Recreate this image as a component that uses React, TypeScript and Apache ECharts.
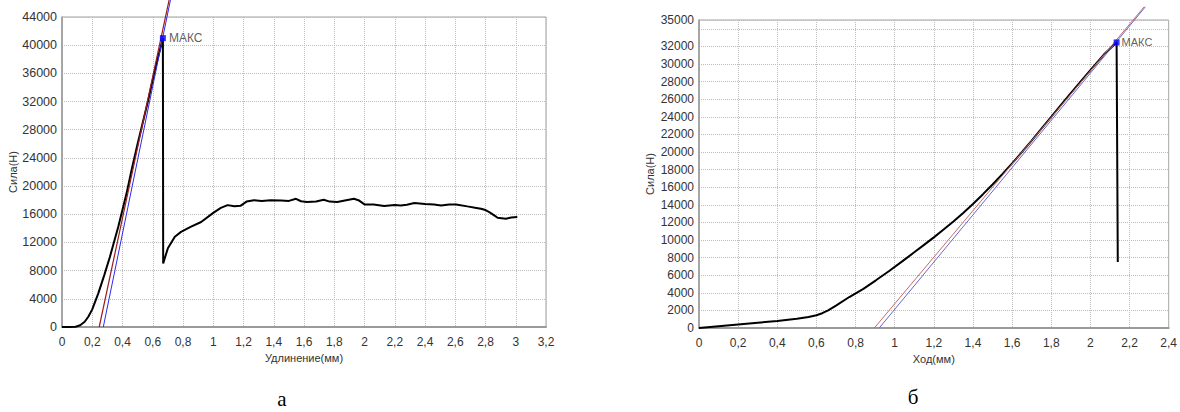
import React, { useEffect, useRef } from "react";
import * as echarts from "echarts";

// ---------- Data (left chart "а") ----------
const leftCurve: number[][] = [
  [0, 0], [0.05, 0], [0.09, 30], [0.12, 250], [0.15, 750], [0.174, 1460], [0.2, 2500],
  [0.24, 4780], [0.28, 7400], [0.317, 9980], [0.372, 14230], [0.427, 18970], [0.46, 22280],
  [0.5, 26000], [0.57, 32200], [0.62, 37000], [0.667, 41000], [0.669, 9000], [0.68, 9800],
  [0.7, 11170], [0.746, 12810], [0.787, 13500], [0.85, 14200], [0.92, 14900], [1.0, 16200],
  [1.05, 16900], [1.095, 17300], [1.14, 17150], [1.18, 17200], [1.22, 17800], [1.27, 18000],
  [1.32, 17900], [1.38, 18000], [1.448, 17970], [1.5, 17900], [1.547, 18200], [1.58, 17850],
  [1.62, 17750], [1.68, 17800], [1.73, 18060], [1.77, 17800], [1.82, 17730], [1.87, 17950],
  [1.93, 18200], [1.96, 18000], [2.0, 17400], [2.06, 17400], [2.13, 17160], [2.2, 17300],
  [2.24, 17250], [2.28, 17350], [2.33, 17590], [2.4, 17450], [2.46, 17400], [2.506, 17260],
  [2.56, 17400], [2.605, 17400], [2.68, 17120], [2.74, 16900], [2.77, 16790], [2.8, 16600],
  [2.825, 16310], [2.86, 15800], [2.88, 15500], [2.935, 15370], [2.97, 15550], [3.01, 15600],
];
const leftRedLine: number[][] = [[0.246, 0], [0.708, 46400]];
const leftBlueLine: number[][] = [[0.273, 0], [0.717, 46400]];
const leftMax: number[][] = [[0.667, 41000]];

// ---------- Data (right chart "б") ----------
const rightCurve: number[][] = [
  [0, 0], [0.1, 200], [0.2, 400], [0.3, 600], [0.4, 800], [0.5, 1050], [0.56, 1250],
  [0.6, 1450], [0.63, 1680], [0.66, 2000], [0.7, 2550], [0.768, 3520], [0.84, 4450],
  [0.904, 5420], [0.97, 6450], [1.04, 7600], [1.1, 8600], [1.15, 9450], [1.2, 10300],
  [1.25, 11200], [1.3, 12100], [1.35, 13080], [1.4, 14100], [1.45, 15180], [1.5, 16300],
  [1.55, 17480], [1.6, 18700], [1.65, 19980], [1.7, 21300], [1.75, 22650], [1.8, 24000],
  [1.85, 25350], [1.9, 26700], [1.95, 28000], [2.0, 29300], [2.07, 31100], [2.134, 32450],
  [2.14, 7500],
];
const rightRedLine: number[][] = [[0.896, 0], [2.275, 36500]];
const rightBlueLine: number[][] = [[0.921, 0], [2.281, 36500]];
const rightMax: number[][] = [[2.134, 32450]];

// ---------- Axis texts ----------
const yTitle = "Сила(Н)";
const leftXTitle = "Удлинение(мм)";
const rightXTitle = "Ход(мм)";
const maxLabel = "МАКС";
const captionLeft = "а";
const captionRight = "б";

const FONT = "Liberation Sans, Arial, sans-serif";

const fmtX = (v: number) => {
  const s = String(Number(v.toFixed(1)));
  return s.replace(".", ",");
};

export default function App() {
  const ref = useRef<HTMLDivElement>(null);
  useEffect(() => {
    if (!ref.current) return;
    const chart = echarts.init(ref.current, undefined, { renderer: "svg" });
    const splitLine = { show: true, lineStyle: { color: "#bdbdbd", type: "dotted" as const, width: 1 } };
    const xAxisCommon = {
      type: "value" as const,
      min: 0,
      interval: 0.2,
      axisTick: { show: false },
      axisLine: { show: true, lineStyle: { color: "#9a9a9a", width: 2 } },
      splitLine,
      nameLocation: "middle" as const,
      nameTextStyle: { color: "#333", fontFamily: FONT, fontSize: 11 },
    };
    const yAxisCommon = {
      type: "value" as const,
      min: 0,
      axisTick: { show: false },
      axisLine: { show: true, lineStyle: { color: "#9a9a9a", width: 1.5 } },
      splitLine,
      name: yTitle,
      nameLocation: "middle" as const,
      nameRotate: 90,
      nameTextStyle: { color: "#333", fontFamily: FONT, fontSize: 11 },
    };
    chart.setOption({
      animation: false,
      backgroundColor: "#fff",
      grid: [
        { left: 62, top: 17, width: 484, height: 310, show: true, borderColor: "#a0a0a0", borderWidth: 1 },
        { left: 699, top: 20, width: 473, height: 308, show: true, borderColor: "#a0a0a0", borderWidth: 1 },
      ],
      xAxis: [
        {
          ...xAxisCommon,
          gridIndex: 0,
          max: 3.2,
          name: leftXTitle,
          nameGap: 23,
          axisLabel: { color: "#333", fontFamily: FONT, fontSize: 12, margin: 9, formatter: fmtX },
        },
        {
          ...xAxisCommon,
          gridIndex: 1,
          max: 2.4,
          name: rightXTitle,
          nameGap: 23,
          axisLabel: { color: "#333", fontFamily: FONT, fontSize: 12, margin: 9, formatter: fmtX },
        },
      ],
      yAxis: [
        {
          ...yAxisCommon,
          gridIndex: 0,
          max: 44000,
          interval: 4000,
          nameGap: 41,
          axisLabel: { color: "#333", fontFamily: FONT, fontSize: 12.5, margin: 5, formatter: (v: number) => String(v) },
        },
        {
          ...yAxisCommon,
          gridIndex: 1,
          max: 35000,
          interval: 2000,
          nameGap: 44,
          axisLabel: {
            color: "#333",
            fontFamily: FONT,
            fontSize: 12,
            margin: 5,
            formatter: (v: number) => (v === 34000 ? "" : String(v)),
          },
        },
      ],
      series: [
        {
          type: "line", xAxisIndex: 0, yAxisIndex: 0, data: leftCurve, showSymbol: false,
          lineStyle: { color: "#000", width: 2 }, z: 3,
        },
        {
          type: "line", xAxisIndex: 0, yAxisIndex: 0, data: leftRedLine, showSymbol: false, clip: false,
          lineStyle: { color: "#9b1c1c", width: 1.2 }, z: 4,
        },
        {
          type: "line", xAxisIndex: 0, yAxisIndex: 0, data: leftBlueLine, showSymbol: false, clip: false,
          lineStyle: { color: "#2a2af0", width: 1 }, z: 4,
        },
        {
          type: "scatter", xAxisIndex: 0, yAxisIndex: 0, data: leftMax, symbol: "rect", symbolSize: 6,
          itemStyle: { color: "#0000ff" }, z: 5,
          label: { show: true, position: "right", distance: 3, formatter: maxLabel, color: "#333", fontFamily: FONT, fontSize: 12 },
        },
        {
          type: "line", xAxisIndex: 1, yAxisIndex: 1, data: rightCurve, showSymbol: false,
          lineStyle: { color: "#000", width: 2 }, z: 3,
        },
        {
          type: "line", xAxisIndex: 1, yAxisIndex: 1, data: rightRedLine, showSymbol: false, clip: false,
          lineStyle: { color: "#c86a6a", width: 1 }, z: 4,
        },
        {
          type: "line", xAxisIndex: 1, yAxisIndex: 1, data: rightBlueLine, showSymbol: false, clip: false,
          lineStyle: { color: "#6a6ac8", width: 1 }, z: 4,
        },
        {
          type: "scatter", xAxisIndex: 1, yAxisIndex: 1, data: rightMax, symbol: "rect", symbolSize: 6,
          itemStyle: { color: "#0000ff" }, z: 5,
          label: { show: true, position: "right", distance: 2, formatter: maxLabel, color: "#333", fontFamily: FONT, fontSize: 11 },
        },
      ],
      graphic: [
        {
          type: "text", x: 282, y: 399,
          style: {
            text: captionLeft, font: "21px 'Liberation Serif', 'Times New Roman', serif", fill: "#000",
            align: "center", verticalAlign: "middle",
          },
        },
        {
          type: "text", x: 913, y: 397,
          style: {
            text: captionRight, font: "21px 'Liberation Serif', 'Times New Roman', serif", fill: "#000",
            align: "center", verticalAlign: "middle",
          },
        },
      ],
    });
    return () => chart.dispose();
  }, []);
  return (
    <div
      ref={ref}
      style={{ position: "fixed", left: 0, top: 0, width: 1180, height: 412, background: "#fff" }}
    />
  );
}
